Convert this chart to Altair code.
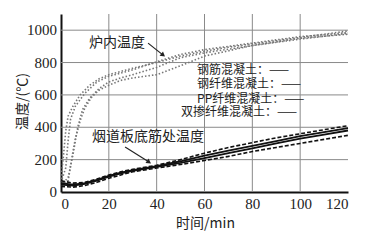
import altair as alt
import pandas as pd

# Furnace temperature curves (dotted)
f1_t = [0, 1, 2, 3, 5, 8, 12, 16, 20, 25, 30, 40, 50, 60, 70, 80, 90, 100, 110, 120]
f1_v = [80, 220, 380, 470, 530, 600, 660, 700, 725, 745, 765, 800, 840, 870, 895, 915, 935, 955, 975, 995]
f2_t = [0, 2, 3, 4, 6, 10, 15, 20, 25, 30, 40, 50, 60, 80, 100, 120]
f2_v = [60, 150, 320, 450, 530, 610, 680, 715, 735, 755, 805, 850, 880, 920, 960, 985]
f3_t = [0, 3, 4, 5, 6, 8, 10, 13, 16, 20, 25, 30, 40, 50, 60, 80, 100, 120]
f3_v = [50, 70, 160, 250, 330, 440, 520, 590, 630, 660, 690, 705, 725, 780, 840, 905, 950, 975]
f4_t = [0, 3, 5, 7, 9, 12, 16, 20, 25, 30, 40, 50, 60, 80, 100, 120]
f4_v = [40, 90, 230, 400, 510, 580, 640, 680, 705, 725, 770, 830, 860, 905, 945, 980]

# Rebar temperature curves
r_t = [0, 5, 10, 15, 20, 25, 30, 40, 50, 60, 70, 80, 90, 100, 110, 120]
r1_v = [70, 55, 60, 80, 105, 125, 140, 165, 200, 240, 275, 305, 335, 360, 385, 410]
r2_v = [55, 45, 55, 75, 100, 120, 135, 160, 190, 225, 255, 285, 315, 345, 370, 395]
r3_v = [45, 40, 50, 70, 95, 115, 130, 155, 180, 210, 240, 270, 300, 330, 355, 380]
r4_v = [35, 30, 40, 60, 85, 105, 125, 148, 170, 195, 220, 250, 275, 300, 325, 350]

x_domain = [0, 120]
y_domain = [0, 1100]
x_ticks = [0, 20, 40, 60, 80, 100, 120]
y_ticks = [0, 200, 400, 600, 800, 1000]
y_tick_labels = ["0", "200", "400", "600", "800", "1000"]
x_grid = [20, 40, 60, 80, 100]
y_grid = [200, 400, 600, 800, 1000]

legend_labels = ["钢筋混凝土：——", "钢纤维混凝土：——", "PP纤维混凝土：——", "双掺纤维混凝土：——"]
legend_x = [56.9, 56.9, 56.9, 50.2]
legend_y = [753, 667, 574, 494]

ann_text = ["炉内温度", "烟道板底筋处温度"]
ann_x = [23.4, 36.4]
ann_y = [920, 340]

arrow_x1 = [36.4, 26.8]
arrow_y1 = [920, 278]
arrow_x2 = [42.7, 36.8]
arrow_y2 = [846, 185]
arrow_angle = [129, 124]

furn = []
for name, ts, vs in [("F1", f1_t, f1_v), ("F2", f2_t, f2_v), ("F3", f3_t, f3_v), ("F4", f4_t, f4_v)]:
    for t, v in zip(ts, vs):
        furn.append({"s": name, "t": t, "v": v})
furn = pd.DataFrame(furn)

reb_solid = []
reb_dash = []
for name, vs, dst in [("R1", r1_v, reb_dash), ("R2", r2_v, reb_solid), ("R3", r3_v, reb_solid), ("R4", r4_v, reb_dash)]:
    for t, v in zip(r_t, vs):
        dst.append({"s": name, "t": t, "v": v})
reb_solid = pd.DataFrame(reb_solid)
reb_dash = pd.DataFrame(reb_dash)

gx = pd.DataFrame({"t": x_grid})
gy = pd.DataFrame({"v": y_grid})
leg = pd.DataFrame({"label": legend_labels, "x": legend_x, "y": legend_y})
ann = pd.DataFrame({"label": ann_text, "x": ann_x, "y": ann_y})
arr = pd.DataFrame({"x1": arrow_x1, "y1": arrow_y1, "x2": arrow_x2, "y2": arrow_y2, "a": arrow_angle})
ylab = pd.DataFrame({"t": [0] * len(y_ticks), "v": y_ticks, "lab": y_tick_labels})

xs = alt.Scale(domain=x_domain, nice=False)
ys = alt.Scale(domain=y_domain, nice=False)

X = alt.X("t:Q", scale=xs, axis=alt.Axis(
    values=x_ticks, title="时间/min",
    titleX=144, titleY=31, titleBaseline="middle"))
Y = alt.Y("v:Q", scale=ys, axis=alt.Axis(
    values=y_ticks, title="温度/(℃)", labels=False,
    titleX=-39, titleY=87, titleAngle=-90, titleAlign="center", titleBaseline="middle"))

grid_v = alt.Chart(gx).mark_rule(color="#8a8a8a", strokeWidth=1).encode(x=X)
grid_h = alt.Chart(gy).mark_rule(color="#8a8a8a", strokeWidth=1).encode(y=Y)

furnace = alt.Chart(furn).mark_line(color="#777", strokeDash=[1.5, 2], strokeWidth=1.6).encode(
    x=X, y=Y, detail="s:N")
solid = alt.Chart(reb_solid).mark_line(color="#111", strokeWidth=1.8).encode(
    x=X, y=Y, detail="s:N")
dashed = alt.Chart(reb_dash).mark_line(color="#111", strokeWidth=1.6, strokeDash=[4, 2]).encode(
    x=X, y=Y, detail="s:N")

ylabels = alt.Chart(ylab).mark_text(font="Liberation Serif", fontSize=15, align="right",
                                    baseline="middle", color="#222", dx=-4).encode(
    x=X, y=Y, text="lab:N")

legend_text = alt.Chart(leg).mark_text(font="Noto Sans CJK SC", fontSize=12, align="left",
                                       baseline="middle", color="#222").encode(
    x="x:Q", y="y:Q", text="label:N")
ann_mark = alt.Chart(ann).mark_text(font="Noto Sans CJK SC", fontSize=14, align="center",
                                    baseline="middle", color="#222").encode(
    x="x:Q", y="y:Q", text="label:N")
arrow_line = alt.Chart(arr).mark_rule(color="#222", strokeWidth=1.2).encode(
    x="x1:Q", y="y1:Q", x2="x2:Q", y2="y2:Q")
arrow_head = alt.Chart(arr).mark_point(shape="triangle-up", filled=True, color="#222",
                                       size=30, opacity=1).encode(
    x="x2:Q", y="y2:Q", angle=alt.Angle("a:Q", scale=None))

chart = alt.layer(grid_v, grid_h, furnace, dashed, solid, ylabels, legend_text, ann_mark,
                  arrow_line, arrow_head).properties(
    width=287, height=178,
    autosize=alt.AutoSizeParams(type="none"),
    padding={"left": 61, "top": 14, "right": 23, "bottom": 52},
    background="white",
).configure_view(stroke=None).configure_axis(
    grid=False, labelOverlap=False, ticks=False,
    domainColor="#111", domainWidth=2,
    labelFont="Liberation Serif", labelFontSize=15, labelColor="#222",
    titleFont="Noto Sans CJK SC", titleFontSize=14, titleFontWeight="normal", titleColor="#222",
).configure_axisX(labelPadding=4)

chart.save("out.html", embed_options={"renderer": "svg", "actions": False})
